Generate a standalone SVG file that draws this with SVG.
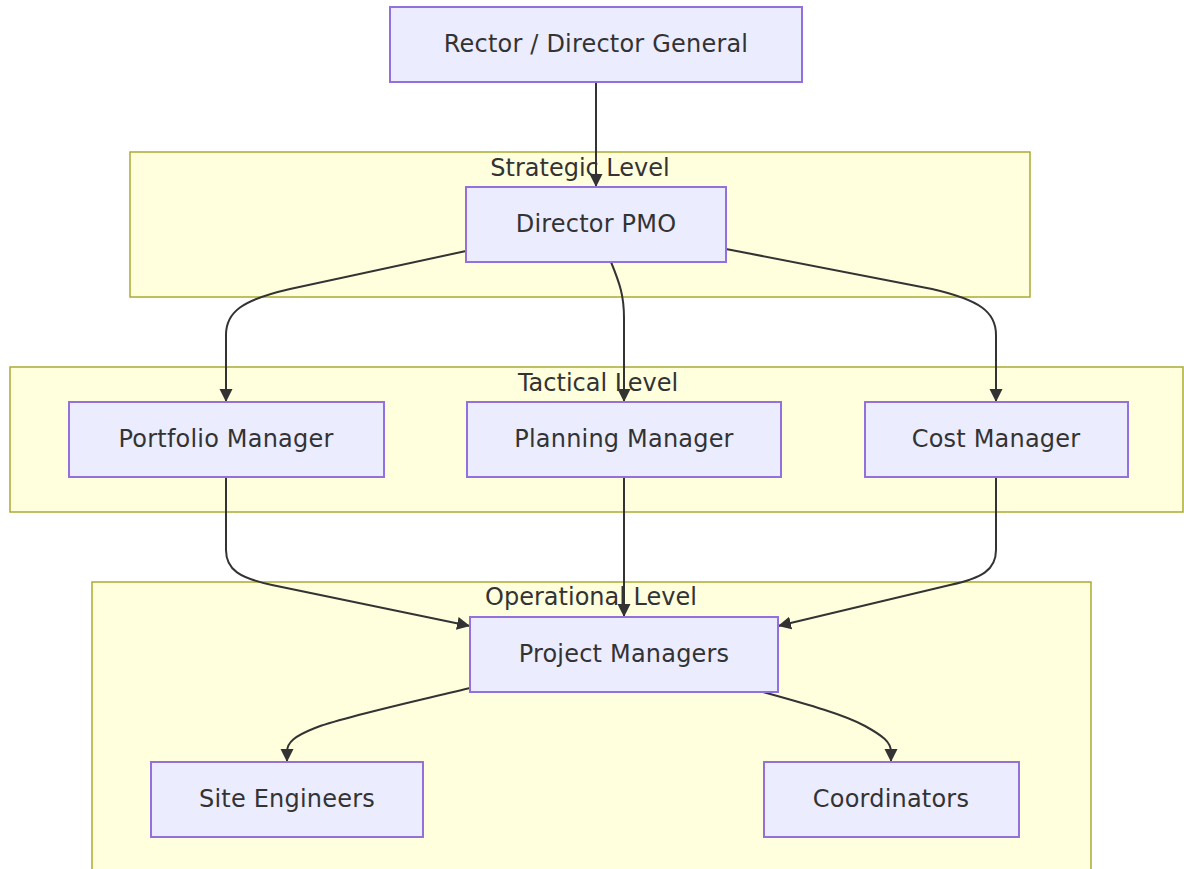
<svg xmlns="http://www.w3.org/2000/svg" width="1184" height="869" viewBox="0 0 1184 869">
  <style>
    .cluster rect { fill: #ffffde; stroke: #aaaa33; stroke-width: 1.5; }
    .cluster text { fill: #333333; font-family: "DejaVu Sans", Verdana, sans-serif; font-size: 24px; text-anchor: middle; }
    .node rect { fill: #ececff; stroke: #9370db; stroke-width: 2; }
    .node text { fill: #333333; font-family: "DejaVu Sans", Verdana, sans-serif; font-size: 24px; text-anchor: middle; letter-spacing: 0.2px; }
    .edge { fill: none; stroke: #333333; stroke-width: 2; }
  </style>
  <defs>
    <marker id="arrow" viewBox="0 0 10 10" refX="10" refY="5" markerWidth="13" markerHeight="14" markerUnits="userSpaceOnUse" orient="auto">
      <path d="M0,0 L10,5 L0,10 z" fill="#333333"/>
    </marker>
  </defs>

  <rect width="1184" height="869" fill="#ffffff"/>

  <!-- subgraph frames -->
  <g id="strategic" class="cluster">
    <rect x="130" y="152" width="900" height="145"/>
    <text x="580" y="176">Strategic Level</text>
  </g>
  <g id="tactical" class="cluster">
    <rect x="10" y="367" width="1173" height="145"/>
    <text x="598" y="391">Tactical Level</text>
  </g>
  <g id="operational" class="cluster">
    <rect x="92" y="582" width="999" height="300"/>
    <text x="591" y="605">Operational Level</text>
  </g>

  <!-- connectors -->
  <g id="connectors">
    <path class="edge" marker-end="url(#arrow)" d="M596,82 L596,187"/>
    <path class="edge" marker-end="url(#arrow)" d="M466,251 L290,289 C242,300 226,312 226,335 L226,402"/>
    <path class="edge" marker-end="url(#arrow)" d="M611,262 C620,284 624,296 624,318 L624,402"/>
    <path class="edge" marker-end="url(#arrow)" d="M726,249 L932,289 C980,300 996,312 996,335 L996,402"/>
    <path class="edge" marker-end="url(#arrow)" d="M226,477 L226,550 C226,570 240,578 272,585 L470,626"/>
    <path class="edge" marker-end="url(#arrow)" d="M624,477 L624,617"/>
    <path class="edge" marker-end="url(#arrow)" d="M996,477 L996,550 C996,570 982,578 950,585 L778,626"/>
    <path class="edge" marker-end="url(#arrow)" d="M470,688 C400,705 340,718 315,728 C295,736 287,742 287,752 L287,762"/>
    <path class="edge" marker-end="url(#arrow)" d="M763,692 C810,705 845,715 865,726 C883,736 891,742 891,752 L891,762"/>
  </g>

  <!-- nodes -->
  <g id="rector" class="node">
    <rect x="390" y="7" width="412" height="75"/>
    <text x="596" y="52">Rector / Director General</text>
  </g>
  <g id="pmo" class="node">
    <rect x="466" y="187" width="260" height="75"/>
    <text x="596" y="232">Director PMO</text>
  </g>
  <g id="portfolio" class="node">
    <rect x="69" y="402" width="315" height="75"/>
    <text x="226" y="447">Portfolio Manager</text>
  </g>
  <g id="planning" class="node">
    <rect x="467" y="402" width="314" height="75"/>
    <text x="624" y="447">Planning Manager</text>
  </g>
  <g id="cost" class="node">
    <rect x="865" y="402" width="263" height="75"/>
    <text x="996" y="447">Cost Manager</text>
  </g>
  <g id="project-managers" class="node">
    <rect x="470" y="617" width="308" height="75"/>
    <text x="624" y="662">Project Managers</text>
  </g>
  <g id="site-engineers" class="node">
    <rect x="151" y="762" width="272" height="75"/>
    <text x="287" y="807">Site Engineers</text>
  </g>
  <g id="coordinators" class="node">
    <rect x="764" y="762" width="255" height="75"/>
    <text x="891" y="807">Coordinators</text>
  </g>
</svg>
